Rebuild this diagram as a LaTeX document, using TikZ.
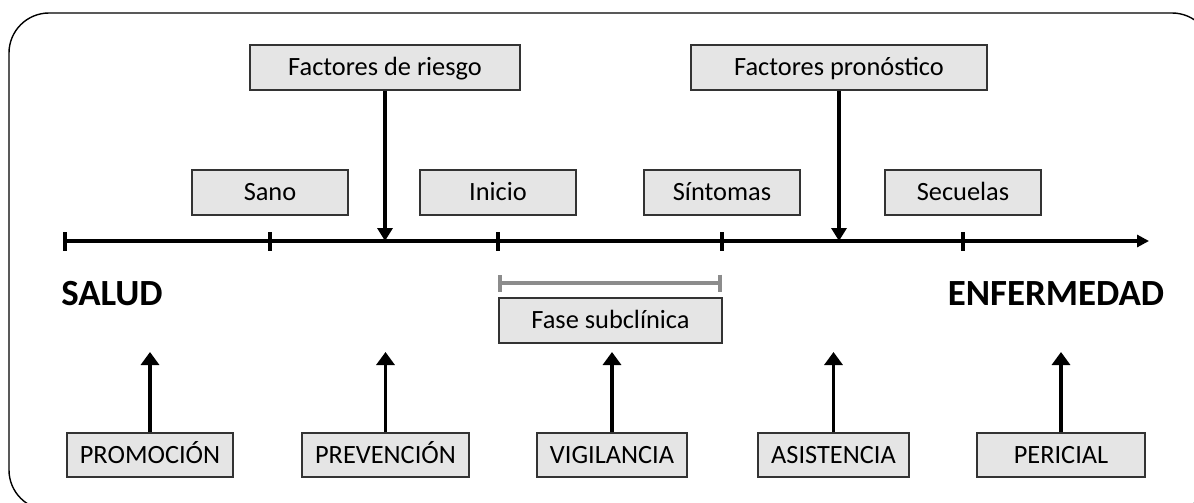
\documentclass[tikz,border=0pt]{standalone}
\usepackage{fontspec}
\setmainfont{Carlito}
\usetikzlibrary{arrows.meta}

\begin{document}
\begin{tikzpicture}[
  caja/.style = {draw=black!80, fill=black!10, line width=0.8pt, minimum height=0.9cm, inner sep=0pt, text height=0.33cm, text depth=0pt, font=\fontsize{15}{17}\selectfont},
  titulo/.style = {font=\fontsize{21}{24}\selectfont\bfseries},
  flecha/.style = {line width=2.2pt, -{Triangle[width=0.36cm, length=0.26cm]}},
  baja/.style = {line width=2pt, -{Triangle[width=0.3cm, length=0.26cm]}}
]
\useasboundingbox (0,0) rectangle (23.88,10.04);
\draw[line width=0.8pt, rounded corners=0.8cm] (0.18,9.78) rectangle (24.24,-0.16); % marco

% eje de la historia natural
\coordinate (ini) at (1.30,5.22);
\coordinate (fin) at (22.98,5.22);
\draw[line width=2pt, -{Triangle[width=0.24cm, length=0.24cm]}] (ini) -- (fin); % eje
\foreach \x/\n in {1.30/t0, 5.40/t1, 9.96/t2, 14.44/t3, 19.26/t4} {
  \coordinate (\n) at (\x,5.22);
  \draw[line width=2pt] ([yshift=-0.19cm]\n) -- ([yshift=0.19cm]\n); % marca
}

% etapas
\node[caja, minimum width=3.12cm] (sano) at (5.40,6.19) {Sano};
\node[caja, minimum width=3.12cm] (inicio) at (9.96,6.19) {Inicio};
\node[caja, minimum width=3.12cm] (sintomas) at (14.44,6.19) {Síntomas};
\node[caja, minimum width=3.12cm] (secuelas) at (19.26,6.19) {Secuelas};

% factores
\node[caja, minimum width=5.4cm] (riesgo) at (7.70,8.69) {Factores de riesgo};
\node[caja, minimum width=5.92cm] (pronostico) at (16.78,8.69) {Factores pronóstico};
\draw[baja] (riesgo.south) -- (riesgo.south |- ini); % riesgo al eje
\draw[baja] (pronostico.south) -- (pronostico.south |- ini); % pronostico al eje

% fase subclinica
\coordinate (fa) at (9.96,4.38);
\coordinate (fb) at (14.44,4.38);
\draw[black!45, line width=2pt, {Bar[width=0.34cm]}-{Bar[width=0.34cm]}] (fa) -- (fb);
\node[caja, minimum width=4.46cm] (subclinica) at (12.21,3.63) {Fase subclínica};

\node[titulo] (salud) at (2.24,4.16) {SALUD};
\node[titulo] (enfermedad) at (21.12,4.16) {ENFERMEDAD};

% niveles de actuacion
\foreach \x/\w/\n/\t in {3.00/3.32/promo/PROMOCIÓN, 7.71/3.34/preven/PREVENCIÓN, 12.24/3.00/vigil/VIGILANCIA, 16.67/3.02/asist/ASISTENCIA, 21.22/3.36/peric/PERICIAL} {
  \node[caja, minimum width=\w cm, minimum height=0.88cm] (\n) at (\x,0.94) {\t};
  \coordinate (\n-tip) at (\x,3.00);
  \draw[flecha] (\n.north) -- (\n-tip); % flecha hacia arriba
}

\end{tikzpicture}
\end{document}
